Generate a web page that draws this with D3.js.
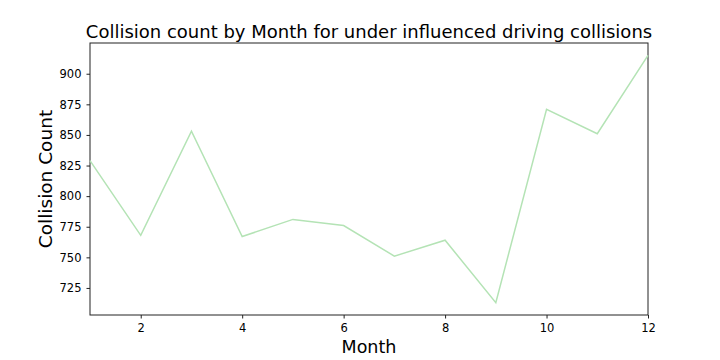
<!DOCTYPE html>
<html>
<head>
<meta charset="utf-8">
<script src="https://cdn.jsdelivr.net/npm/d3@7"></script>
<style>
  body { margin: 0; background: #fff; }
  text { font-family: "DejaVu Sans", sans-serif; fill: #000; }
</style>
</head>
<body>
<div id="chart"></div>
<script>
const months = [1, 2, 3, 4, 5, 6, 7, 8, 9, 10, 11, 12];
const counts = [829, 768, 853, 767, 781, 776, 751, 764, 713, 871, 851, 915];
const xTicks = [2, 4, 6, 8, 10, 12];
const yTicks = [725, 750, 775, 800, 825, 850, 875, 900];

const width = 720, height = 360;
const margin = {top: 43, right: 72, bottom: 45, left: 90};
const w = width - margin.left - margin.right, h = height - margin.top - margin.bottom;

const svg = d3.select('#chart').append('svg').attr('width', width).attr('height', height);
const g = svg.append('g').attr('transform', `translate(${margin.left}, ${margin.top})`);

const x = d3.scaleLinear().domain(d3.extent(months)).range([0, w]);
const [lo, hi] = d3.extent(counts);
const pad = (hi - lo) * 0.05;
const y = d3.scaleLinear().domain([lo - pad, hi + pad]).range([h, 0]);

const xAxis = g.append('g').attr('transform', `translate(0, ${h})`)
    .call(d3.axisBottom(x).tickValues(xTicks).tickFormat(d3.format('d')).tickSize(3.5).tickPadding(5));
const yAxis = g.append('g')
    .call(d3.axisLeft(y).tickValues(yTicks).tickFormat(d3.format('d')).tickSize(3.5).tickPadding(5));
[xAxis, yAxis].forEach(a => {
    a.select('.domain').remove();
    a.selectAll('text').style('font-size', '11.5px').attr('fill', '#000');
    a.selectAll('line').attr('stroke', '#222');
});

g.append('rect').attr('width', w).attr('height', h)
    .attr('fill', 'none').attr('stroke', '#222').attr('stroke-width', 1);

const line = d3.line().x((d, i) => x(months[i])).y(d => y(d));
g.append('path').datum(counts).attr('d', line)
    .attr('fill', 'none').attr('stroke', '#b4e3b5').attr('stroke-width', 1.5);

svg.append('text').attr('x', margin.left + w / 2).attr('y', 38).attr('text-anchor', 'middle')
    .style('font-size', '18px').text('Collision count by Month for under influenced driving collisions');
svg.append('text').attr('x', margin.left + w / 2).attr('y', 353).attr('text-anchor', 'middle')
    .style('font-size', '17.5px').text('Month');
svg.append('text').attr('transform', `translate(52, ${margin.top + h / 2}) rotate(-90)`)
    .attr('text-anchor', 'middle').style('font-size', '18.5px').text('Collision Count');
</script>
</body>
</html>
